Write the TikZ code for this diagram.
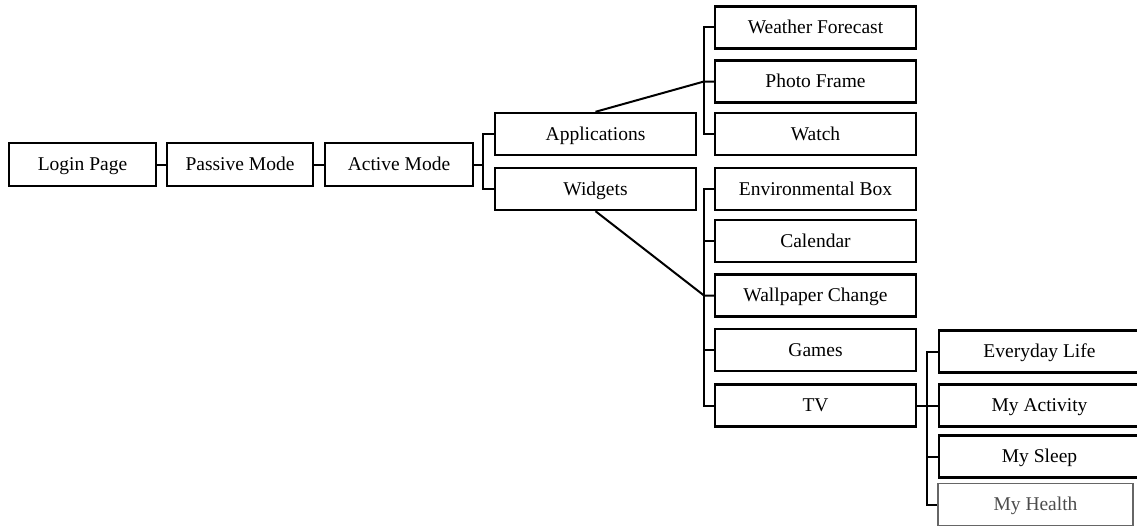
\documentclass[tikz,border=0pt]{standalone}
\usepackage{fontspec}
\setmainfont{Liberation Serif}
\begin{document}
\begin{tikzpicture}[x=1pt,y=-1pt,
  box/.style={draw, line width=2.4pt, minimum width=201pt, minimum height=42pt, inner sep=0pt, text height=14pt, text depth=2pt, font=\fontsize{19.5}{22}\selectfont},
  conn/.style={line width=2pt}]
\useasboundingbox (0,0) rectangle (1137,527);
\clip (0,0) rectangle (1137,527);
% level 0-1
\node[box, minimum width=147pt, minimum height=43pt] (login) at (82.5,164.5) {Login Page};
\node[box, minimum width=146pt, minimum height=43pt] (passive) at (240,164.5) {Passive Mode};
\node[box, minimum width=148pt, minimum height=43pt] (active) at (399,164.5) {Active Mode};
% level 2
\node[box] (apps) at (595.5,134) {Applications};
\node[box] (widgets) at (595.5,189) {Widgets};
% level 3
\node[box] (weather) at (815.5,27.5) {Weather Forecast};
\node[box] (photo) at (815.5,81.5) {Photo Frame};
\node[box] (watch) at (815.5,134) {Watch};
\node[box] (env) at (815.5,189) {Environmental Box};
\node[box] (cal) at (815.5,241) {Calendar};
\node[box] (wall) at (815.5,295.5) {Wallpaper Change};
\node[box] (games) at (815.5,350) {Games};
\node[box] (tv) at (815.5,405.5) {TV};
% level 4
\node[box] (life) at (1039.5,351.5) {Everyday Life};
\node[box] (activity) at (1039.5,405.5) {My Activity};
\node[box] (sleep) at (1039.5,456.5) {My Sleep};
\node[box, draw=black!60, line width=1.8pt, minimum width=195pt, text=black!70] (health) at (1035.5,504.5) {My Health};
% connectors
\draw[conn] (login) -- (passive);
\draw[conn] (passive) -- (active);
% active bracket
\coordinate (ba) at (483,164.5);
\draw[conn] (active.east) -- (ba);
\draw[conn] (apps.west) -| (ba) |- (widgets.west);
% applications bracket
\coordinate (bapp) at (704,81.5);
\draw[conn] (apps.north) -- (bapp) -- (photo.west);
\draw[conn] (weather.west) -| (bapp) |- (watch.west);
% widgets bracket
\coordinate (bw) at (704,295.5);
\draw[conn] (widgets.south) -- (bw) -- (wall.west);
\draw[conn] (env.west) -| (bw) |- (tv.west);
\draw[conn] (cal.west) -- (cal.west -| bw);
\draw[conn] (games.west) -- (games.west -| bw);
% tv bracket
\coordinate (bt) at (927,405.5);
\draw[conn] (tv.east) -- (bt) -- (activity.west);
\draw[conn] (life.west) -| (bt) |- (health.west);
\draw[conn] (sleep.west) -- (sleep.west -| bt);
\end{tikzpicture}
\end{document}
